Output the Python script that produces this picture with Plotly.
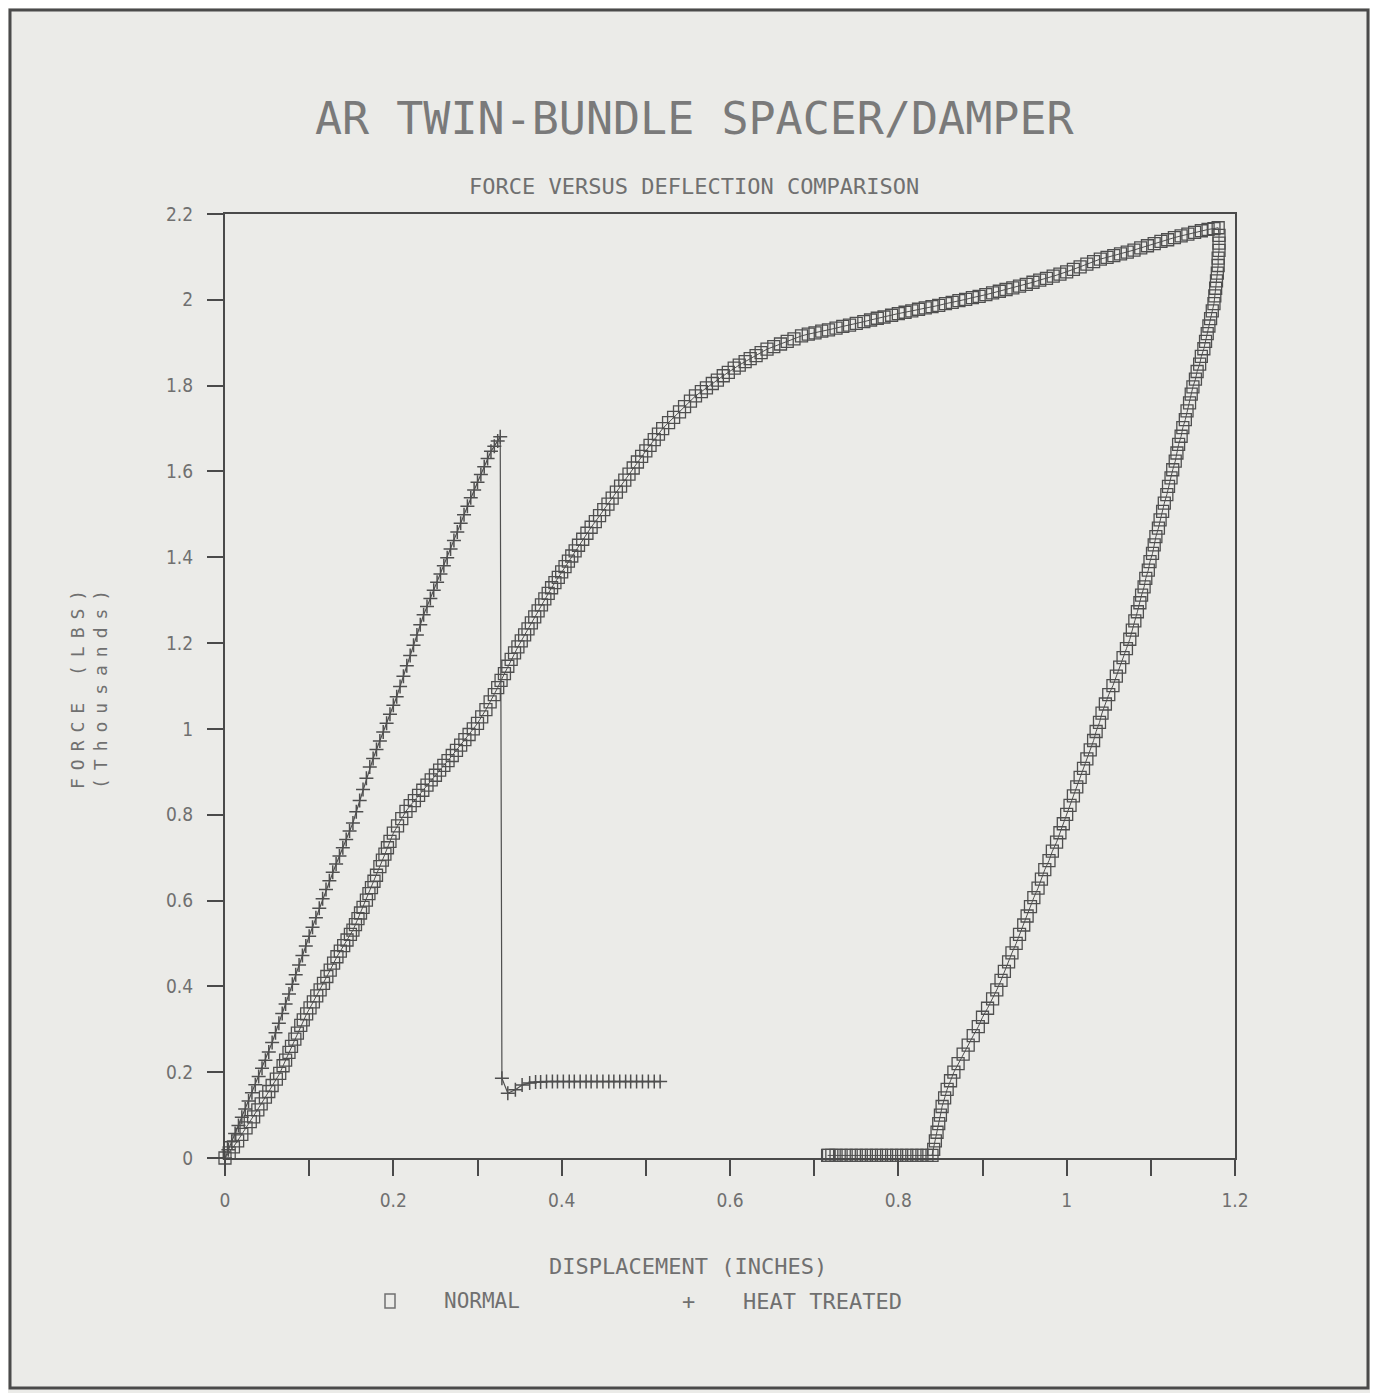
import plotly.graph_objects as go

# ---------------- data ----------------
normal_x = [
    0.000, 0.005, 0.010, 0.015, 0.020, 0.025, 0.030,
    0.034, 0.039, 0.043, 0.048, 0.052, 0.056, 0.061,
    0.065, 0.069, 0.072, 0.076, 0.079, 0.083, 0.086, 0.090,
    0.093, 0.097, 0.101, 0.105, 0.109, 0.113, 0.117, 0.121, 0.125, 0.129, 0.133, 0.137, 0.141, 0.145, 0.149,
    0.152, 0.155, 0.158, 0.161, 0.164, 0.168, 0.171, 0.174, 0.177, 0.180, 0.184, 0.187, 0.190, 0.193, 0.196,
    0.200, 0.205, 0.210, 0.215, 0.220, 0.225, 0.230, 0.235, 0.240, 0.245, 0.250,
    0.255, 0.260, 0.265, 0.270, 0.275, 0.280, 0.285, 0.290, 0.295, 0.300, 0.305, 0.310, 0.315,
    0.320, 0.324, 0.328, 0.332, 0.336, 0.340, 0.344, 0.348, 0.352, 0.356, 0.360, 0.364, 0.368,
    0.372, 0.376, 0.380, 0.384, 0.388, 0.392, 0.396, 0.400, 0.404, 0.408, 0.412, 0.416, 0.420,
    0.425, 0.430, 0.435, 0.440, 0.445, 0.450, 0.455, 0.460, 0.465, 0.470, 0.475, 0.480, 0.485,
    0.490, 0.495, 0.500, 0.505, 0.510, 0.515,
    0.520, 0.527, 0.533, 0.540, 0.546, 0.553, 0.559, 0.566, 0.572, 0.579, 0.585, 0.592, 0.598,
    0.605, 0.611, 0.618, 0.624, 0.631, 0.637,
    0.644, 0.652, 0.660, 0.668, 0.676, 0.685, 0.693, 0.701, 0.709, 0.717, 0.726, 0.734, 0.742,
    0.750, 0.759, 0.767, 0.775, 0.783, 0.792,
    0.800, 0.808, 0.816, 0.824, 0.832, 0.840, 0.848, 0.856, 0.864, 0.872, 0.880, 0.888, 0.896,
    0.904, 0.912, 0.920, 0.928, 0.936, 0.944, 0.952, 0.960, 0.968, 0.976, 0.984, 0.992,
    1.000, 1.008, 1.016, 1.024, 1.032, 1.040, 1.048, 1.056, 1.064, 1.072, 1.080, 1.088, 1.096,
    1.104, 1.112, 1.120, 1.128, 1.136, 1.144, 1.152, 1.160, 1.168, 1.175, 1.180,
    # unloading
    1.181, 1.181, 1.181, 1.180, 1.180, 1.179, 1.178, 1.177, 1.176, 1.175, 1.173, 1.171, 1.169,
    1.167, 1.165, 1.163, 1.160, 1.158, 1.155, 1.153, 1.150, 1.148,
    1.146, 1.143, 1.141, 1.138, 1.136, 1.133, 1.131, 1.129, 1.126, 1.124, 1.121, 1.119, 1.116,
    1.114, 1.111, 1.109, 1.106, 1.104, 1.102, 1.099, 1.097, 1.094, 1.092, 1.089, 1.087,
    1.084, 1.081, 1.078, 1.075, 1.071, 1.067, 1.063, 1.059, 1.055, 1.050, 1.046, 1.042, 1.039,
    1.035, 1.032, 1.028, 1.024, 1.020, 1.016, 1.012, 1.008, 1.004, 1.000, 0.996, 0.992,
    0.988, 0.983, 0.979, 0.974, 0.970, 0.966, 0.961, 0.957, 0.953, 0.949, 0.944,
    0.940, 0.935, 0.931, 0.926, 0.922, 0.917, 0.912, 0.906, 0.900,
    0.895, 0.889, 0.883, 0.877, 0.871, 0.866, 0.862, 0.858, 0.855, 0.852,
    0.850, 0.848, 0.846, 0.844, 0.842, 0.840,
    # flat tail
    0.834, 0.828, 0.822, 0.816, 0.810, 0.804, 0.798, 0.792, 0.786, 0.780, 0.774, 0.768,
    0.762, 0.756, 0.750, 0.744, 0.738, 0.732, 0.726, 0.721, 0.717, 0.716,
]
normal_y = [
    0.000, 0.012, 0.026, 0.040, 0.055, 0.070, 0.085,
    0.096, 0.112, 0.126, 0.142, 0.155, 0.169, 0.184,
    0.197, 0.215, 0.228, 0.246, 0.260, 0.277, 0.291, 0.309,
    0.322, 0.336, 0.350, 0.364, 0.378, 0.392, 0.407, 0.423, 0.438, 0.454, 0.469, 0.482, 0.495, 0.508, 0.521,
    0.531, 0.544, 0.558, 0.571, 0.584, 0.601, 0.616, 0.630, 0.645, 0.659, 0.679, 0.694, 0.708, 0.723, 0.738,
    0.757, 0.774, 0.791, 0.808, 0.821, 0.833, 0.845, 0.857, 0.869, 0.881, 0.892,
    0.904, 0.915, 0.926, 0.938, 0.950, 0.962, 0.975, 0.987, 1.000, 1.013, 1.028, 1.045, 1.063,
    1.080, 1.096, 1.113, 1.129, 1.146, 1.162, 1.177, 1.191, 1.205, 1.219, 1.233, 1.247, 1.261,
    1.275, 1.289, 1.303, 1.316, 1.329, 1.341, 1.353, 1.366, 1.378, 1.391, 1.403, 1.415, 1.428,
    1.442, 1.456, 1.470, 1.483, 1.497, 1.511, 1.524, 1.538, 1.552, 1.566, 1.580, 1.594, 1.608,
    1.622, 1.635, 1.648, 1.661, 1.674, 1.687,
    1.700, 1.714, 1.726, 1.739, 1.751, 1.764, 1.776, 1.786, 1.795, 1.805, 1.813, 1.823, 1.831,
    1.841, 1.848, 1.856, 1.863, 1.870, 1.877,
    1.885, 1.891, 1.897, 1.903, 1.909, 1.916, 1.920, 1.923, 1.927, 1.930, 1.934, 1.938, 1.941,
    1.945, 1.949, 1.953, 1.957, 1.960, 1.964,
    1.968, 1.971, 1.974, 1.978, 1.981, 1.984, 1.987, 1.991, 1.994, 1.998, 2.001, 2.005, 2.008,
    2.012, 2.016, 2.020, 2.024, 2.028, 2.032, 2.036, 2.041, 2.046, 2.050, 2.055, 2.060,
    2.065, 2.071, 2.077, 2.083, 2.089, 2.095, 2.099, 2.103, 2.107, 2.111, 2.116, 2.121, 2.126,
    2.131, 2.136, 2.140, 2.145, 2.149, 2.153, 2.157, 2.161, 2.164, 2.166, 2.168,
    # unloading
    2.150, 2.132, 2.115, 2.097, 2.080, 2.062, 2.044, 2.027, 2.009, 1.991, 1.974, 1.956, 1.939,
    1.921, 1.903, 1.886, 1.868, 1.850, 1.833, 1.815, 1.797, 1.780,
    1.760, 1.741, 1.721, 1.702, 1.682, 1.663, 1.643, 1.624, 1.604, 1.585, 1.565, 1.546, 1.526,
    1.507, 1.487, 1.468, 1.448, 1.429, 1.409, 1.390, 1.370, 1.351, 1.331, 1.312, 1.294,
    1.273, 1.252, 1.230, 1.209, 1.187, 1.166, 1.144, 1.123, 1.101, 1.080, 1.058, 1.037, 1.015,
    0.994, 0.973, 0.951, 0.930, 0.908, 0.887, 0.865, 0.844, 0.822, 0.801, 0.779, 0.758,
    0.736, 0.715, 0.693, 0.672, 0.650, 0.629, 0.607, 0.586, 0.564, 0.543, 0.521,
    0.500, 0.478, 0.457, 0.435, 0.414, 0.392, 0.371, 0.349, 0.328,
    0.306, 0.285, 0.263, 0.242, 0.220, 0.200, 0.180, 0.160, 0.140, 0.120,
    0.100, 0.080, 0.060, 0.040, 0.020, 0.006,
    # flat tail
    0.006, 0.006, 0.006, 0.006, 0.006, 0.006, 0.006, 0.006, 0.006, 0.006, 0.006, 0.006,
    0.006, 0.006, 0.006, 0.006, 0.006, 0.006, 0.006, 0.006, 0.006, 0.006,
]

heat_x = [
    0.000, 0.004, 0.008, 0.012, 0.016, 0.020, 0.024, 0.028, 0.032, 0.036, 0.040, 0.044, 0.048, 0.052,
    0.056, 0.060, 0.064, 0.068, 0.072, 0.076, 0.080, 0.084, 0.088, 0.092,
    0.096, 0.100, 0.104, 0.108, 0.112, 0.116, 0.120,
    0.124, 0.128, 0.132, 0.136, 0.140, 0.144, 0.148, 0.152,
    0.156, 0.160, 0.164, 0.168, 0.172,
    0.176, 0.180, 0.184, 0.188, 0.192, 0.196, 0.200, 0.204,
    0.208, 0.212, 0.216, 0.220, 0.224, 0.228, 0.232,
    0.236, 0.240, 0.244, 0.248, 0.252, 0.256, 0.260,
    0.264, 0.268, 0.272, 0.276, 0.280, 0.284, 0.288,
    0.292, 0.296, 0.300, 0.304, 0.308, 0.312, 0.316, 0.320, 0.324, 0.327,
    # after the drop
    0.329, 0.336, 0.345, 0.353, 0.362, 0.369, 0.375, 0.382, 0.389, 0.395, 0.402, 0.409, 0.415,
    0.422, 0.429, 0.435, 0.442, 0.449, 0.456, 0.462, 0.469, 0.476, 0.482, 0.489, 0.496, 0.503,
    0.510, 0.517,
]
heat_y = [
    0.000, 0.019, 0.038, 0.057, 0.076, 0.095, 0.114, 0.133, 0.152, 0.171, 0.190, 0.209, 0.228, 0.247,
    0.269, 0.292, 0.314, 0.337, 0.359, 0.382, 0.405, 0.427, 0.450, 0.472,
    0.494, 0.517, 0.538, 0.560, 0.582, 0.604, 0.626,
    0.646, 0.666, 0.685, 0.704, 0.723, 0.742, 0.762, 0.781,
    0.807, 0.833, 0.859, 0.885, 0.911,
    0.931, 0.952, 0.972, 0.993, 1.013, 1.034, 1.055, 1.075,
    1.099, 1.123, 1.147, 1.171, 1.195, 1.219, 1.243,
    1.266, 1.285, 1.304, 1.323, 1.342, 1.361, 1.380,
    1.399, 1.419, 1.439, 1.459, 1.479, 1.499, 1.519,
    1.539, 1.557, 1.575, 1.593, 1.611, 1.630, 1.647, 1.659, 1.671, 1.681,
    # after the drop
    0.186, 0.151, 0.159, 0.170, 0.175, 0.177, 0.177, 0.178, 0.178, 0.178, 0.178, 0.178, 0.178,
    0.178, 0.178, 0.178, 0.178, 0.178, 0.178, 0.178, 0.178, 0.178, 0.178, 0.178, 0.178, 0.178,
    0.178, 0.178,
]

x_ticks = [0, 0.2, 0.4, 0.6, 0.8, 1.0, 1.2]
y_ticks = [0, 0.2, 0.4, 0.6, 0.8, 1.0, 1.2, 1.4, 1.6, 1.8, 2.0, 2.2]

# ---------------- styling ----------------
OFF = 8                                  # page body margin
PAGE_W, PAGE_H = 1378, 1393
W, H = PAGE_W - OFF, PAGE_H - OFF
L, R, T, B = 225, 1235, 214, 1158        # plot-area box in page pixels
BG = "#ebebe8"
INK = "#4f4f4f"
TXT = "#707070"
TITLE = "#7a7a7a"
MONO = "DejaVu Sans Mono, Liberation Mono, monospace"
TICKF = "DejaVu Sans Condensed, DejaVu Sans, sans-serif"


def px(xp):
    return (xp - L) / (R - L)


def py(yp):
    return (B - yp) / (B - T)


def spaced(s, ls):
    return f'<span style="letter-spacing:{ls}px">{s}</span>'


fig = go.Figure()
fig.add_trace(go.Scatter(
    x=normal_x, y=normal_y, mode="lines+markers", name="NORMAL",
    line=dict(color=INK, width=1),
    marker=dict(symbol="square-open", size=12, color=INK, line=dict(width=1.3, color=INK)),
    cliponaxis=False, showlegend=False,
))
fig.add_trace(go.Scatter(
    x=heat_x, y=heat_y, mode="lines+markers", name="HEAT TREATED",
    line=dict(color=INK, width=1.2),
    marker=dict(symbol="cross-thin-open", size=10, color=INK, line=dict(width=1.5, color=INK)),
    cliponaxis=False, showlegend=False,
))

axis_common = dict(
    showgrid=False, zeroline=False, showline=True, linecolor="#4a4a4a", linewidth=2,
    mirror=True, ticks="outside", tickcolor="#4a4a4a", tickwidth=2, ticklen=16,
    tickfont=dict(family=TICKF, size=19, color=TXT),
)
fig.update_xaxes(range=[0, 1.2], tickvals=x_ticks,
                 ticktext=[f"{v:g}" for v in x_ticks],
                 minor=dict(dtick=0.1, ticks="outside", ticklen=16, tickwidth=2, tickcolor="#4a4a4a"),
                 ticklabelstandoff=8, **axis_common)
fig.update_yaxes(range=[0, 2.2], tickvals=y_ticks,
                 ticktext=[f"{v:g}" for v in y_ticks],
                 ticklabelstandoff=10, **axis_common)

ann = [
    dict(text="AR TWIN-BUNDLE SPACER/DAMPER", x=px(694), y=py(118),
         font=dict(family=MONO, size=45, color=TITLE)),
    dict(text="FORCE VERSUS DEFLECTION COMPARISON", x=px(694), y=py(187),
         font=dict(family=MONO, size=22, color=TXT)),
    dict(text=spaced("FORCE (LBS)", 8) + "<br>" + spaced("(Thousands)", 8),
         x=px(89), y=py(686), textangle=-90,
         font=dict(family=MONO, size=18, color=TXT)),
    dict(text="DISPLACEMENT (INCHES)", x=px(688), y=py(1266),
         font=dict(family=MONO, size=22, color=TXT)),
    dict(text="NORMAL", x=px(442), y=py(1301), xanchor="left",
         font=dict(family=MONO, size=21, color=TXT)),
    dict(text="+", x=px(688), y=py(1301),
         font=dict(family=MONO, size=22, color=TXT)),
    dict(text="HEAT TREATED", x=px(741), y=py(1301), xanchor="left",
         font=dict(family=MONO, size=22, color=TXT)),
]
for a in ann:
    a.setdefault("xanchor", "center")
    a.update(xref="paper", yref="paper", yanchor="middle", showarrow=False)

shapes = [
    # outer frame
    dict(type="rect", xref="paper", yref="paper",
         x0=px(10), x1=px(1368), y0=py(1388), y1=py(10),
         line=dict(color="#4a4a4a", width=3)),
    # legend square glyph
    dict(type="rect", xref="paper", yref="paper",
         x0=px(385), x1=px(395), y0=py(1308), y1=py(1294),
         line=dict(color=TXT, width=1.5)),
]

fig.update_layout(
    width=W, height=H,
    margin=dict(l=L - OFF, r=W - (R - OFF), t=T - OFF, b=H - (B - OFF), pad=0),
    paper_bgcolor=BG, plot_bgcolor=BG,
    annotations=ann, shapes=shapes,
    showlegend=False,
)

fig.write_html("out.html")
